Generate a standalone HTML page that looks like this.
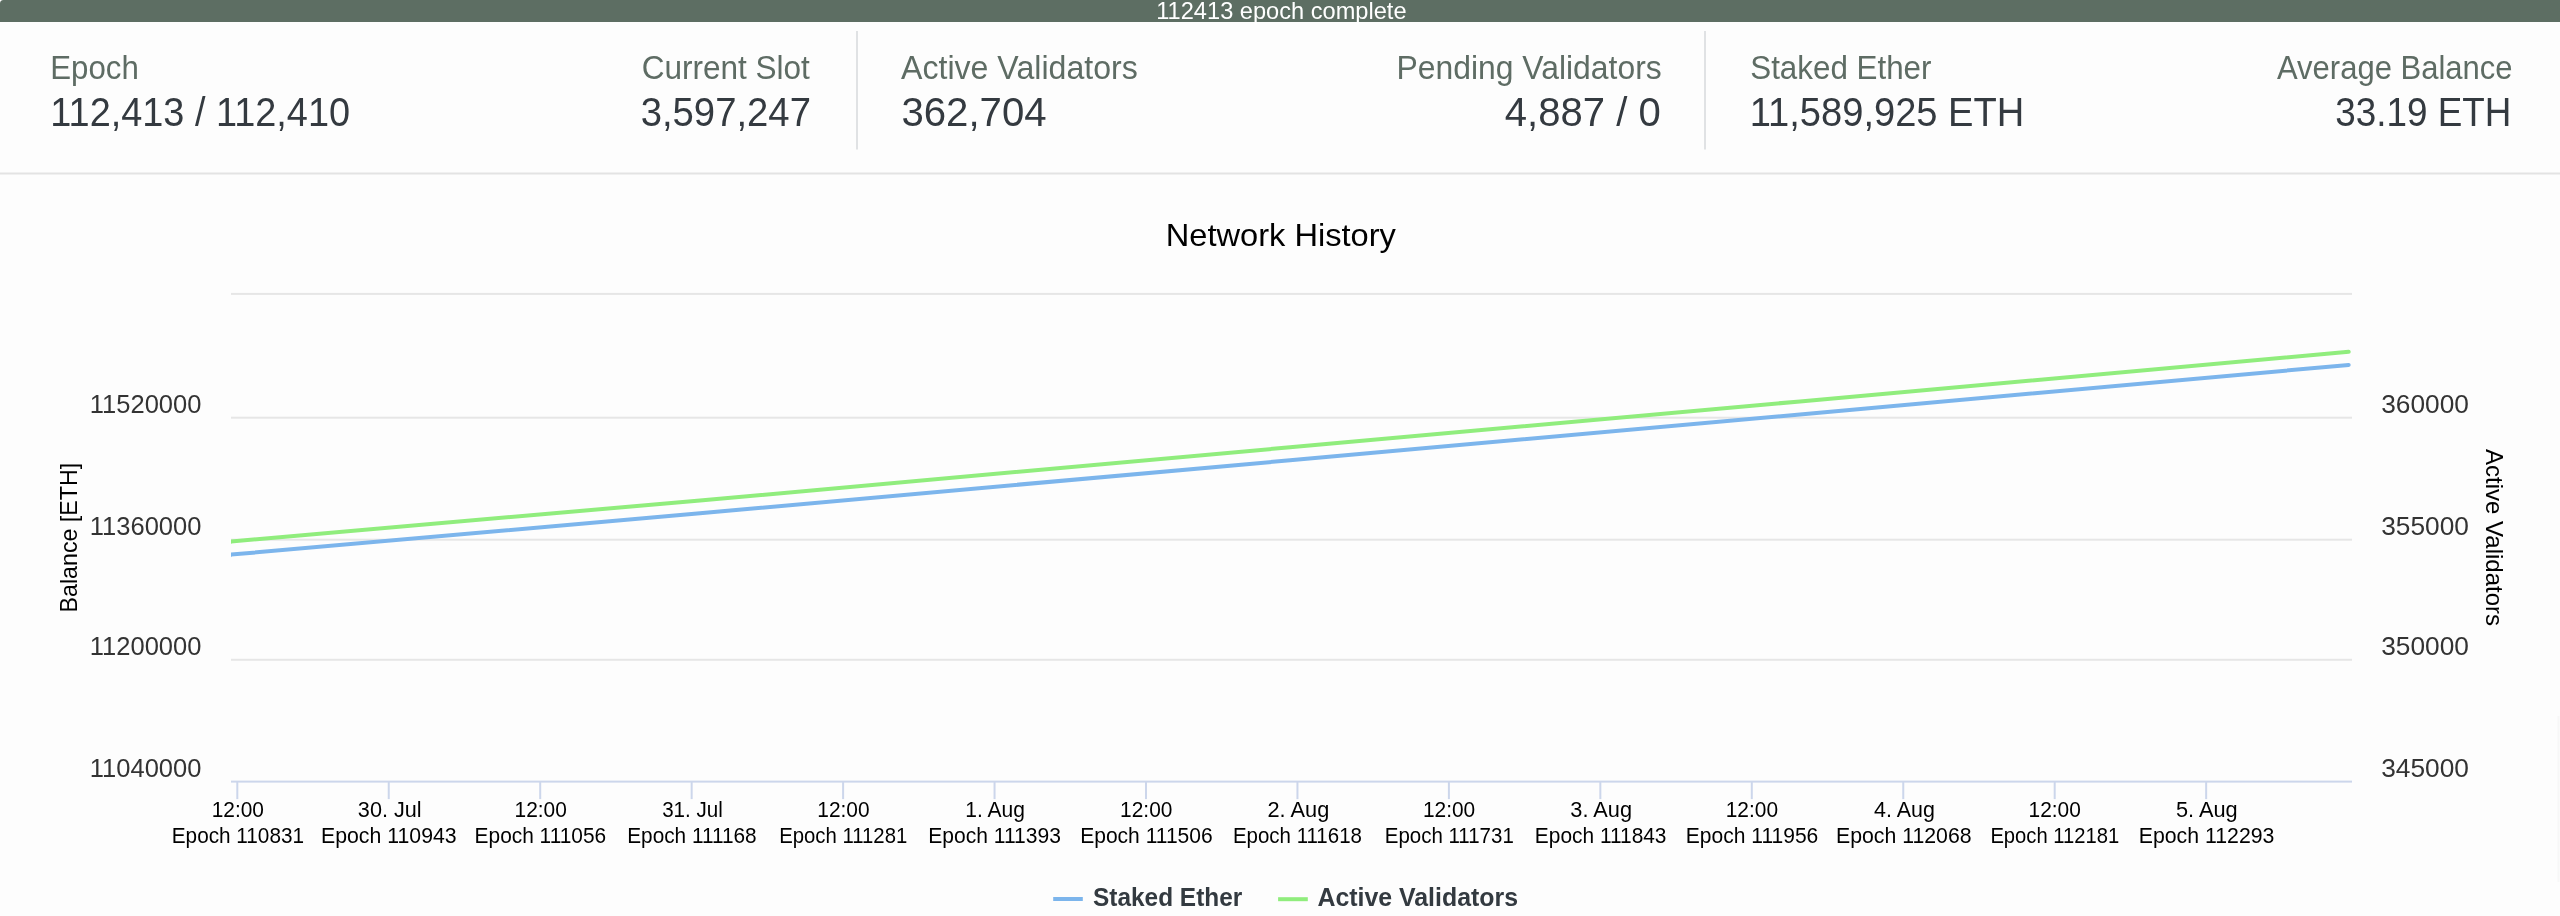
<!DOCTYPE html>
<html><head><meta charset="utf-8"><style>
html,body{margin:0;padding:0;background:#fdfdfd;width:2560px;height:916px;overflow:hidden}
svg{display:block;will-change:transform;font-family:"Liberation Sans", sans-serif}
</style></head><body>
<svg width="2560" height="916" viewBox="0 0 2560 916">
<rect x="0" y="0" width="2560" height="22" fill="#5d6e63"/>
<path d="M0,0 H3.5 A3.5,3.5 0 0 0 0,3.5 Z" fill="#ffffff"/>
<rect x="856" y="31" width="2" height="118.5" fill="#e0e2e4"/>
<rect x="1704" y="31" width="2" height="118.5" fill="#e0e2e4"/>
<rect x="0" y="172.5" width="2560" height="2" fill="#e3e3e3"/>
<rect x="231" y="292.90" width="2121" height="2" fill="#e6e6e6"/>
<rect x="231" y="416.70" width="2121" height="2" fill="#e6e6e6"/>
<rect x="231" y="538.70" width="2121" height="2" fill="#e6e6e6"/>
<rect x="231" y="658.80" width="2121" height="2" fill="#e6e6e6"/>
<rect x="231" y="780.60" width="2121" height="2" fill="#ccd6eb"/>
<rect x="236.30" y="781.60" width="2" height="17.5" fill="#ccd6eb"/>
<rect x="387.75" y="781.60" width="2" height="17.5" fill="#ccd6eb"/>
<rect x="539.20" y="781.60" width="2" height="17.5" fill="#ccd6eb"/>
<rect x="690.65" y="781.60" width="2" height="17.5" fill="#ccd6eb"/>
<rect x="842.10" y="781.60" width="2" height="17.5" fill="#ccd6eb"/>
<rect x="993.55" y="781.60" width="2" height="17.5" fill="#ccd6eb"/>
<rect x="1145.00" y="781.60" width="2" height="17.5" fill="#ccd6eb"/>
<rect x="1296.45" y="781.60" width="2" height="17.5" fill="#ccd6eb"/>
<rect x="1447.90" y="781.60" width="2" height="17.5" fill="#ccd6eb"/>
<rect x="1599.35" y="781.60" width="2" height="17.5" fill="#ccd6eb"/>
<rect x="1750.80" y="781.60" width="2" height="17.5" fill="#ccd6eb"/>
<rect x="1902.25" y="781.60" width="2" height="17.5" fill="#ccd6eb"/>
<rect x="2053.70" y="781.60" width="2" height="17.5" fill="#ccd6eb"/>
<rect x="2205.15" y="781.60" width="2" height="17.5" fill="#ccd6eb"/>
<defs><clipPath id="pc"><rect x="231" y="280" width="2130" height="510"/></clipPath></defs>
<g clip-path="url(#pc)">
<polyline points="221,563.6 231,554.6 700,513.2 1290,460.3 1800,414.5 2348.7,364.9" fill="none" stroke="#7cb5ec" stroke-width="4" stroke-linecap="round" stroke-linejoin="round"/>
<polyline points="221,550.3 231,541.4 700,500.5 1290,447.3 1800,401.4 2348.7,351.8" fill="none" stroke="#90ed7d" stroke-width="4" stroke-linecap="round" stroke-linejoin="round"/>
</g>
<rect x="2557.5" y="716" width="2" height="166" fill="#f7f7f7"/>
<rect x="1053.2" y="897" width="29.6" height="4" fill="#7cb5ec"/>
<rect x="1278.1" y="897.2" width="29.7" height="4" fill="#90ed7d"/>
<text id="bar" transform="translate(1156.21 18.6) scale(0.9928 1)" font-size="23.8" fill="#ffffff" font-weight="normal">112413 epoch complete</text>
<text id="l1" transform="translate(50.29 78.8) scale(0.9614 1)" font-size="32.5" fill="#5e6c64" font-weight="normal">Epoch</text>
<text id="v1" transform="translate(50.33 125.9) scale(0.9470 1)" font-size="40" fill="#343a40" font-weight="normal">112,413 / 112,410</text>
<text id="l2" transform="translate(641.64 78.9) scale(0.9705 1)" font-size="32.5" fill="#5e6c64" font-weight="normal">Current Slot</text>
<text id="v2" transform="translate(640.63 125.6) scale(0.9574 1)" font-size="40" fill="#343a40" font-weight="normal">3,597,247</text>
<text id="l3" transform="translate(901.00 78.8) scale(0.9887 1)" font-size="32.5" fill="#5e6c64" font-weight="normal">Active Validators</text>
<text id="v3" transform="translate(901.39 125.7) scale(1.0049 1)" font-size="40" fill="#343a40" font-weight="normal">362,704</text>
<text id="l4" transform="translate(1396.44 78.8) scale(0.9813 1)" font-size="32.5" fill="#5e6c64" font-weight="normal">Pending Validators</text>
<text id="v4" transform="translate(1504.80 125.7) scale(1.0013 1)" font-size="40" fill="#343a40" font-weight="normal">4,887 / 0</text>
<text id="l5" transform="translate(1750.23 78.8) scale(0.9652 1)" font-size="32.5" fill="#5e6c64" font-weight="normal">Staked Ether</text>
<text id="v5" transform="translate(1749.73 125.7) scale(0.9523 1)" font-size="40" fill="#343a40" font-weight="normal">11,589,925 ETH</text>
<text id="l6" transform="translate(2277.00 78.8) scale(0.9545 1)" font-size="32.5" fill="#5e6c64" font-weight="normal">Average Balance</text>
<text id="v6" transform="translate(2335.27 125.7) scale(0.9213 1)" font-size="40" fill="#343a40" font-weight="normal">33.19 ETH</text>
<text id="title" transform="translate(1165.73 245.5) scale(1.0261 1)" font-size="31.8" fill="#000000" font-weight="normal">Network History</text>
<text id="leg1" transform="translate(1093.01 906.3) scale(0.9809 1)" font-size="24.9" fill="#333a40" font-weight="bold">Staked Ether</text>
<text id="leg2" transform="translate(1317.40 906.3) scale(1.0005 1)" font-size="24.9" fill="#333a40" font-weight="bold">Active Validators</text>
<text id="yl0" transform="translate(89.80 412.8) scale(0.9964 1)" font-size="25.6" fill="#333333" font-weight="normal">11520000</text>
<text id="yr0" transform="translate(2381.19 412.7) scale(1.0271 1)" font-size="25.6" fill="#333333" font-weight="normal">360000</text>
<text id="yl1" transform="translate(89.80 534.8) scale(0.9964 1)" font-size="25.6" fill="#333333" font-weight="normal">11360000</text>
<text id="yr1" transform="translate(2381.19 534.7) scale(1.0271 1)" font-size="25.6" fill="#333333" font-weight="normal">355000</text>
<text id="yl2" transform="translate(89.80 654.9) scale(0.9964 1)" font-size="25.6" fill="#333333" font-weight="normal">11200000</text>
<text id="yr2" transform="translate(2381.19 654.8) scale(1.0271 1)" font-size="25.6" fill="#333333" font-weight="normal">350000</text>
<text id="yl3" transform="translate(89.80 776.7) scale(0.9964 1)" font-size="25.6" fill="#333333" font-weight="normal">11040000</text>
<text id="yr3" transform="translate(2381.19 776.6) scale(1.0271 1)" font-size="25.6" fill="#333333" font-weight="normal">345000</text>
<text id="xa0" transform="translate(211.70 816.6) scale(0.9291 1)" font-size="22.5" fill="#000000" font-weight="normal">12:00</text>
<text id="xb0" transform="translate(171.78 842.8) scale(0.9222 1)" font-size="22.5" fill="#000000" font-weight="normal">Epoch 110831</text>
<text id="xa1" transform="translate(357.86 816.6) scale(0.9615 1)" font-size="22.5" fill="#000000" font-weight="normal">30. Jul</text>
<text id="xb1" transform="translate(320.97 842.8) scale(0.9465 1)" font-size="22.5" fill="#000000" font-weight="normal">Epoch 110943</text>
<text id="xa2" transform="translate(514.51 816.6) scale(0.9291 1)" font-size="22.5" fill="#000000" font-weight="normal">12:00</text>
<text id="xb2" transform="translate(474.58 842.8) scale(0.9287 1)" font-size="22.5" fill="#000000" font-weight="normal">Epoch 111056</text>
<text id="xa3" transform="translate(662.18 816.6) scale(0.9154 1)" font-size="22.5" fill="#000000" font-weight="normal">31. Jul</text>
<text id="xb3" transform="translate(627.25 842.8) scale(0.9239 1)" font-size="22.5" fill="#000000" font-weight="normal">Epoch 111168</text>
<text id="xa4" transform="translate(817.31 816.6) scale(0.9291 1)" font-size="22.5" fill="#000000" font-weight="normal">12:00</text>
<text id="xb4" transform="translate(779.14 842.8) scale(0.9043 1)" font-size="22.5" fill="#000000" font-weight="normal">Epoch 111281</text>
<text id="xa5" transform="translate(965.30 816.6) scale(0.9344 1)" font-size="22.5" fill="#000000" font-weight="normal">1. Aug</text>
<text id="xb5" transform="translate(928.32 842.8) scale(0.9354 1)" font-size="22.5" fill="#000000" font-weight="normal">Epoch 111393</text>
<text id="xa6" transform="translate(1120.12 816.6) scale(0.9291 1)" font-size="22.5" fill="#000000" font-weight="normal">12:00</text>
<text id="xb6" transform="translate(1080.19 842.8) scale(0.9354 1)" font-size="22.5" fill="#000000" font-weight="normal">Epoch 111506</text>
<text id="xa7" transform="translate(1267.52 816.6) scale(0.9677 1)" font-size="22.5" fill="#000000" font-weight="normal">2. Aug</text>
<text id="xb7" transform="translate(1232.89 842.8) scale(0.9107 1)" font-size="22.5" fill="#000000" font-weight="normal">Epoch 111618</text>
<text id="xa8" transform="translate(1422.93 816.6) scale(0.9291 1)" font-size="22.5" fill="#000000" font-weight="normal">12:00</text>
<text id="xb8" transform="translate(1384.75 842.8) scale(0.9107 1)" font-size="22.5" fill="#000000" font-weight="normal">Epoch 111731</text>
<text id="xa9" transform="translate(1570.32 816.6) scale(0.9677 1)" font-size="22.5" fill="#000000" font-weight="normal">3. Aug</text>
<text id="xb9" transform="translate(1534.87 842.8) scale(0.9287 1)" font-size="22.5" fill="#000000" font-weight="normal">Epoch 111843</text>
<text id="xa10" transform="translate(1725.74 816.6) scale(0.9291 1)" font-size="22.5" fill="#000000" font-weight="normal">12:00</text>
<text id="xb10" transform="translate(1685.80 842.8) scale(0.9354 1)" font-size="22.5" fill="#000000" font-weight="normal">Epoch 111956</text>
<text id="xa11" transform="translate(1874.09 816.6) scale(0.9524 1)" font-size="22.5" fill="#000000" font-weight="normal">4. Aug</text>
<text id="xb11" transform="translate(1835.94 842.8) scale(0.9465 1)" font-size="22.5" fill="#000000" font-weight="normal">Epoch 112068</text>
<text id="xa12" transform="translate(2028.54 816.6) scale(0.9291 1)" font-size="22.5" fill="#000000" font-weight="normal">12:00</text>
<text id="xb12" transform="translate(1990.38 842.8) scale(0.8979 1)" font-size="22.5" fill="#000000" font-weight="normal">Epoch 112181</text>
<text id="xa13" transform="translate(2175.93 816.6) scale(0.9677 1)" font-size="22.5" fill="#000000" font-weight="normal">5. Aug</text>
<text id="xb13" transform="translate(2138.75 842.8) scale(0.9465 1)" font-size="22.5" fill="#000000" font-weight="normal">Epoch 112293</text>
<text id="axl" transform="translate(77.00 612.50) rotate(-90) scale(0.9680 1)" font-size="24" fill="#000000">Balance [ETH]</text>
<text id="axr" transform="translate(2486.00 449.10) rotate(90) scale(1.0000 1)" font-size="24" fill="#000000">Active Validators</text>
</svg>
</body></html>
